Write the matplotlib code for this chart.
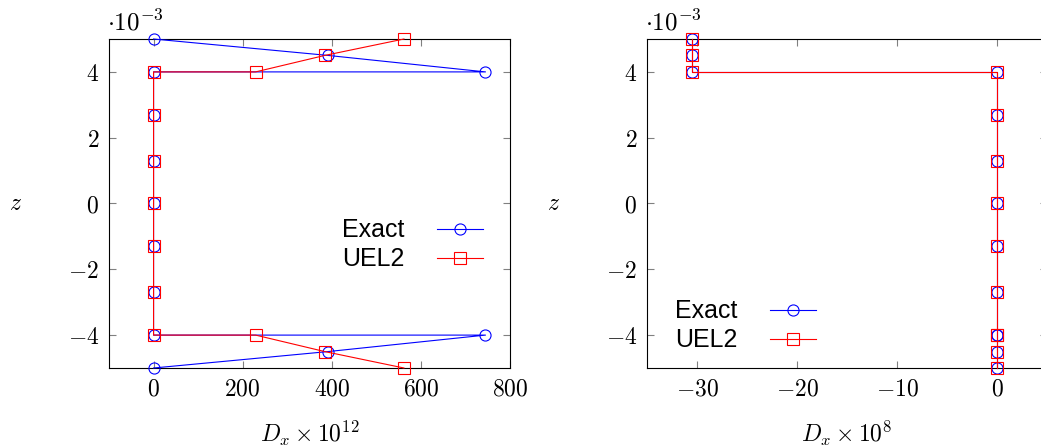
import matplotlib.pyplot as plt

plt.rcParams['mathtext.fontset'] = 'cm'
plt.rcParams['font.family'] = 'serif'
plt.rcParams['font.serif'] = ['DejaVu Serif']

# z in units of 1e-3
z = [-5, -4.5, -4, -4, -2.7, -1.3, 0, 1.3, 2.7, 4, 4, 4.5, 5]

# left: D_x * 1e12
exact_l = [0, 392, 745, 0, 0, 0, 0, 0, 0, 0, 745, 392, 0]
uel2_l = [562, 384, 229, 0, 0, 0, 0, 0, 0, 0, 229, 384, 562]

# right: D_x * 1e8
exact_r = [0, 0, 0, 0, 0, 0, 0, 0, 0, 0, -30.5, -30.5, -30.5]
uel2_r = [0, 0, 0, 0, 0, 0, 0, 0, 0, 0, -30.5, -30.5, -30.5]

xticks_l = [0, 200, 400, 600, 800]
xticks_r = [-30, -20, -10, 0]
yticks = [-4, -2, 0, 2, 4]

fig = plt.figure(figsize=(10.41, 4.48), dpi=100)
ax1 = fig.add_axes([109/1041, 80/448, 401/1041, 329/448])
ax2 = fig.add_axes([647/1041, 80/448, 400/1041, 329/448])

def lab(t):
    return r'$%s$' % (('-' if t < 0 else '') + str(abs(t)))

def style(ax, ex, ue, xlim, xticks, xlabel, leg_anchor):
    ax.plot(ex, z, color='blue', lw=0.8, marker='o', ms=8, mfc='none', mew=0.8,
            label='Exact', clip_on=False, zorder=3)
    ax.plot(ue, z, color='red', lw=0.8, marker='s', ms=8, mfc='none', mew=0.8,
            label='UEL2', clip_on=False, zorder=3)
    ax.set_xlim(*xlim)
    ax.set_ylim(-5, 5)
    ax.set_xticks(xticks)
    ax.set_xticklabels([lab(t) for t in xticks])
    ax.set_yticks(yticks)
    ax.set_yticklabels([lab(t) for t in yticks])
    ax.tick_params(direction='in', length=5, width=0.8, color='0.5', top=True, right=True,
                   labelsize=17, pad=7)
    for s in ax.spines.values():
        s.set_linewidth(0.8)
    ax.set_xlabel(xlabel, fontsize=17, labelpad=13)
    ax.set_ylabel(r'$z$', fontsize=17, rotation=0, labelpad=38, va='center')
    ax.text(-0.005, 1.01, r'$\cdot 10^{-3}$', transform=ax.transAxes, fontsize=18, va='bottom', ha='left')
    ax.legend(loc='center right', bbox_to_anchor=leg_anchor, frameon=False, markerfirst=False,
              prop={'family': 'Liberation Sans', 'size': 18}, handlelength=1.85,
              handletextpad=1.3, labelspacing=0.2, borderpad=0, borderaxespad=0)

style(ax1, exact_l, uel2_l, (-100, 800), xticks_l, r'$D_x \times 10^{12}$', (0.933, 0.374))
style(ax2, exact_r, uel2_r, (-35, 5), xticks_r, r'$D_x \times 10^{8}$', (0.4225, 0.128))

fig.savefig('out.png', dpi=100)
